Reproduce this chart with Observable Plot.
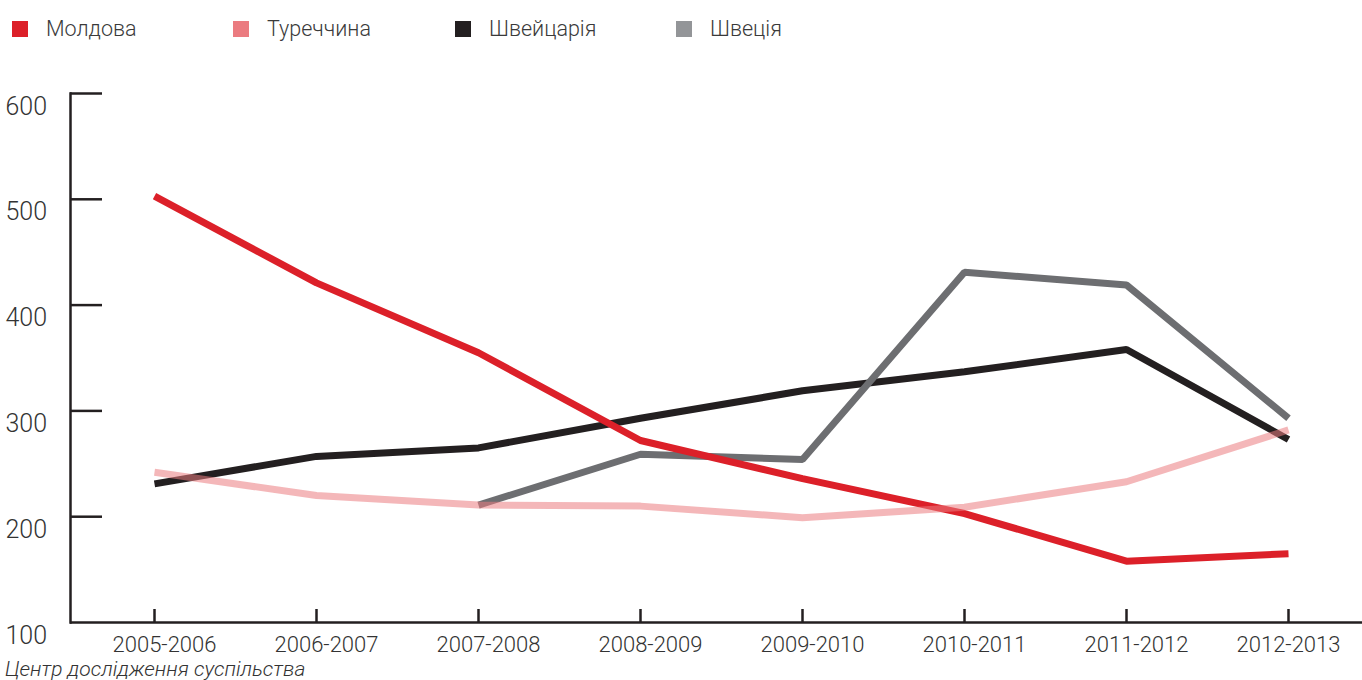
<!DOCTYPE html>
<html><head><meta charset="utf-8">
<script src="https://cdn.jsdelivr.net/npm/d3@7"></script>
<script src="https://cdn.jsdelivr.net/npm/@observablehq/plot@0.6"></script>
<style>
body{margin:0;background:#fff;font-family:Roboto,sans-serif;width:1362px;height:680px;overflow:hidden;position:relative}
#legend{position:relative;height:70px}
.item{position:absolute;top:16px;display:flex;align-items:center;font-size:21.5px;color:#3a3a3a;font-weight:300;line-height:26px}
.sw{width:16px;height:16px;margin-right:18px}
#chart svg{display:block}
#caption{position:absolute;left:5px;top:659px;font-style:italic;font-size:21px;color:#333;font-weight:300;line-height:21px}
</style></head>
<body>
<div id="legend"></div>
<div id="chart"></div>
<div id="caption">Центр дослідження суспільства</div>
<script>
const seasons = ["2005-2006","2006-2007","2007-2008","2008-2009","2009-2010","2010-2011","2011-2012","2012-2013"];
const moldova = [503, 421, 355, 272, 236, 203, 158, 165];
const turkey = [242, 220, 211, 210, 199, 209, 233, 282];
const switzerland = [231, 257, 265, 293, 319, 337, 358, 273];
const sweden = [null, null, 211, 259, 254, 431, 419, 293];
const seriesNames = ["Молдова", "Туреччина", "Швейцарія", "Швеція"];
const legendColors = ["#dc2029", "#eb7b80", "#231f20", "#939598"];
const yTicks = [100, 200, 300, 400, 500, 600];

const legendLeft = [12, 233, 455, 676];
const legend = document.getElementById("legend");
seriesNames.forEach((n, i) => {
  const d = document.createElement("div");
  d.className = "item";
  d.style.left = legendLeft[i] + "px";
  d.innerHTML = `<span class="sw" style="background:${legendColors[i]}"></span><span>${n}</span>`;
  legend.appendChild(d);
});

const rows = (vals, name) => seasons.map((s, i) => ({season: s, value: vals[i], name}));
const dMol = rows(moldova, seriesNames[0]);
const dTur = rows(turkey, seriesNames[1]);
const dSwi = rows(switzerland, seriesNames[2]);
const dSwe = rows(sweden, seriesNames[3]).filter(d => d.value != null);

const W = 1362, H = 600, mt = 23, mb = 48, ml = 70, mr = 0;
const frameH = H - mt - mb, frameW = W - ml - mr;
const ink = "#231f20";
const lineOpts = {x: "season", y: "value", strokeWidth: 7, strokeLinecap: "butt", strokeLinejoin: "miter"};
const xLabelOpts = {tickSize: 0, tickPadding: 14, fontSize: 22, fill: "#333", label: null};

const chart = Plot.plot({
  width: W, height: H,
  marginTop: mt, marginBottom: mb, marginLeft: ml, marginRight: mr,
  style: {fontFamily: "Roboto, sans-serif", fontWeight: 300, color: "#333", background: "#fff"},
  x: {type: "point", domain: seasons, range: [152, 1290], padding: 0},
  y: {domain: [100, 600]},
  marks: [
    Plot.frame({anchor: "left", stroke: ink, strokeWidth: 2.5}),
    Plot.ruleY([100], {stroke: ink, strokeWidth: 2.5}),
    Plot.tickY(yTicks.filter(v => v > 100), {y: d => d, stroke: ink, strokeWidth: 2.5, insetRight: frameW - 32}),
    Plot.tickX(seasons, {x: d => d, stroke: ink, strokeWidth: 2.5, insetTop: frameH - 13}),
    Plot.axisY(yTicks, {anchor: "left", tickSize: 0, tickPadding: 0, textAnchor: "start", dx: -65, dy: 13, fontSize: 25, fill: "#333", label: null}),
    Plot.axisX(seasons.slice(0, -1), {...xLabelOpts, dx: 10}),
    Plot.axisX(seasons.slice(-1), {...xLabelOpts, dx: 0}),
    Plot.line(dSwi, {...lineOpts, stroke: "#231f20"}),
    Plot.line(dSwe, {...lineOpts, stroke: "#6d6e71"}),
    Plot.line(dMol, {...lineOpts, stroke: "#dc2029"}),
    Plot.line(dTur, {...lineOpts, stroke: "#eb7b80", strokeOpacity: 0.55})
  ]
});
document.getElementById("chart").appendChild(chart);
</script>
</body></html>
